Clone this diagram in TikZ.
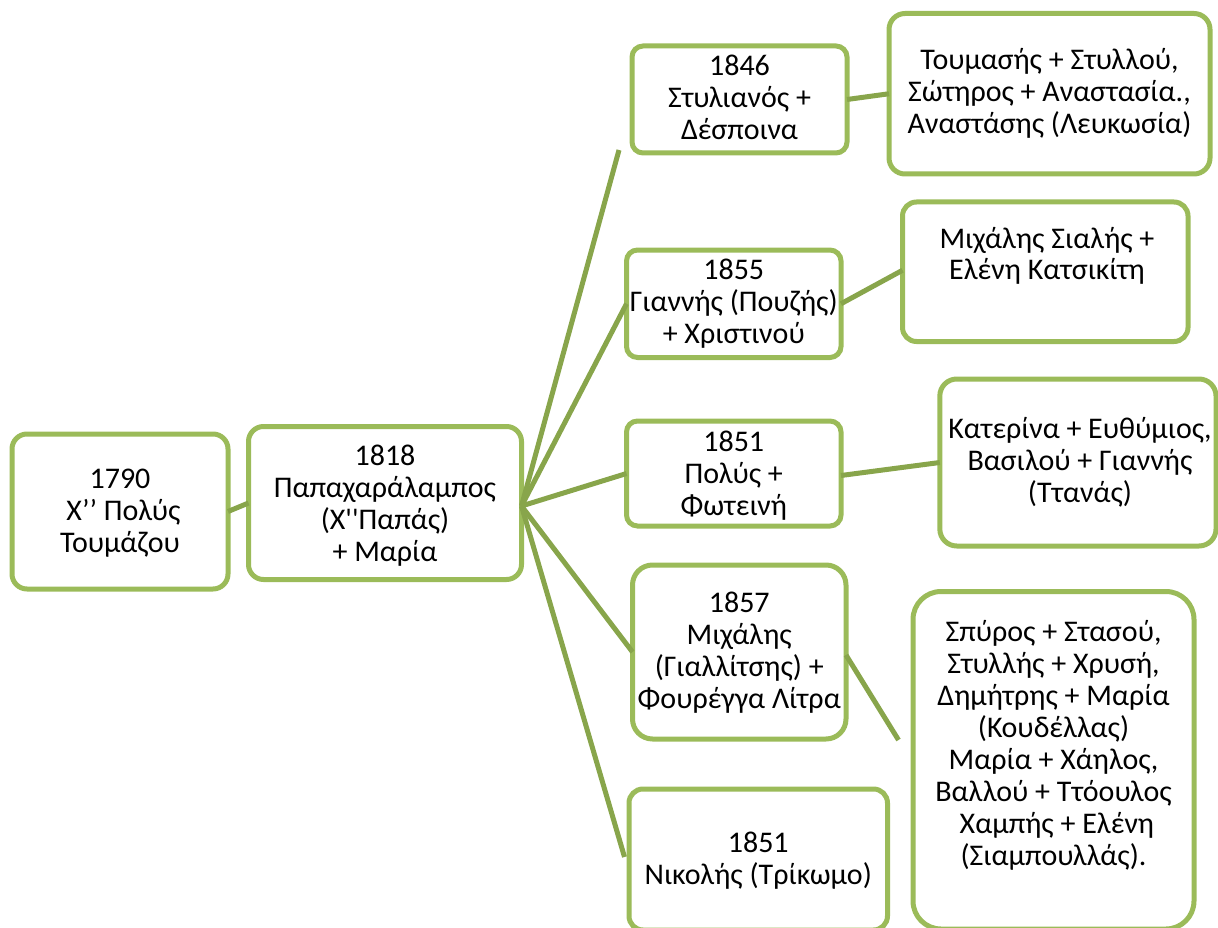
\documentclass[tikz,border=0pt]{standalone}
\usepackage{fontspec}
\newfontfamily\carl{Carlito}
\definecolor{boxgreen}{HTML}{9BBB59}
\definecolor{linegreen}{HTML}{88A54B}
\begin{document}
\begin{tikzpicture}[x=1pt,y=-1pt,
  box/.style={draw=boxgreen, line width=5pt, fill=white, rounded corners=#1,
              inner sep=0pt, outer sep=0pt},
  conn/.style={draw=linegreen, line width=5pt},
  txt/.style={anchor=north, align=center, inner sep=0pt, outer sep=0pt,
              font=\carl\fontsize{30}{32}\selectfont}]
\useasboundingbox (0,0) rectangle (1218,928);

% ---- boxes ----
\node[box=15pt, minimum width=216pt,   minimum height=155pt]   (A) at (120,511.5) {};
\node[box=15pt, minimum width=273pt,   minimum height=153pt]   (B) at (385,503) {};
\node[box=11pt, minimum width=215pt,   minimum height=107pt]   (C) at (739.5,99.5) {};
\node[box=16pt, minimum width=321pt,   minimum height=160.5pt] (D) at (1049.5,93.75) {};
\node[box=11pt, minimum width=214.5pt, minimum height=107.5pt] (E) at (733.75,303.75) {};
\node[box=14pt, minimum width=285.5pt, minimum height=139.5pt] (F) at (1045.25,271.75) {};
\node[box=11pt, minimum width=214.5pt, minimum height=105pt]   (G) at (733.75,473.5) {};
\node[box=17pt, minimum width=276.2pt, minimum height=167pt]   (H) at (1077.9,462.5) {};
\node[box=20pt, minimum width=213.5pt, minimum height=174pt]   (I) at (739.25,652) {};
\node[box=14pt, minimum width=258.5pt, minimum height=141pt]   (J) at (758.25,859.5) {};
\node[box=28pt, minimum width=281pt,   minimum height=337.5pt] (K) at (1053.5,760.25) {};

% ---- free ends of connectors ----
\coordinate (cEnd) at (619,150);
\coordinate (jEnd) at (624.5,857);
\coordinate (kEnd) at (898.5,740);
\coordinate (fan) at ([yshift=-3pt]B.east);

% ---- connectors ----
\draw[conn] (A.east) -- (B.west);
\draw[conn] (fan) -- (cEnd);
\draw[conn] (fan) -- (E.west);
\draw[conn] (fan) -- (G.west);
\draw[conn] (fan) -- (I.west);
\draw[conn] (fan) -- (jEnd);
\draw[conn] (C.east) -- (D.west);
\draw[conn] (E.east) -- ([yshift=1.5pt]F.west);
\draw[conn] ([yshift=-2pt]G.east) -- (H.west);
\draw[conn] ([yshift=-3pt]I.east) -- (kEnd);

% ---- texts (north = first baseline - 22.4) ----
\node[txt] (At) at (120,465.6) {\strut 1790\\\ Χ’’ Πολύς\\Τουμάζου\strut};
\node[txt] (Bt) at (385,442.6) {\strut 1818\\Παπαχαράλαμπος\\(Χ''Παπάς)\\+ Μαρία\strut};
\node[txt] (Ct) at (739.5,53.6) {\strut 1846\\Στυλιανός +\\Δέσποινα\strut};
\node[txt] (Dt) at (1049.5,47.6) {\strut Τουμασής + Στυλλού,\\Σώτηρος + Αναστασία.,\\Αναστάσης (Λευκωσία)\strut};
\node[txt] (Et) at (733.75,257.1) {\strut 1855\\Γιαννής (Πουζής)\\+ Χριστινού\strut};
\node[txt] (Ft) at (1047,225.6) {\strut Μιχάλης Σιαλής +\\Ελένη Κατσικίτη\strut};
\node[txt] (Gt) at (733.75,428.6) {\strut 1851\\Πολύς +\\Φωτεινή\strut};
\node[txt] (Ht) at (1080,415.6) {\strut Κατερίνα + Ευθύμιος,\\Βασιλού + Γιαννής\\(Ττανάς)\strut};
\node[txt] (It) at (739.25,589.6) {\strut 1857\\Μιχάλης\\(Γιαλλίτσης) +\\Φουρέγγα Λίτρα\strut};
\node[txt] (Jt) at (758.25,829.6) {\strut 1851\\Νικολής (Τρίκωμο)\strut};
\node[txt] (Kt) at (1053.5,618.6) {\strut Σπύρος + Στασού,\\Στυλλής + Χρυσή,\\Δημήτρης + Μαρία\\(Κουδέλλας)\\Μαρία + Χάηλος,\\Βαλλού + Ττόουλος\\\ Χαμπής + Ελένη\\(Σιαμπουλλάς).\strut};
\end{tikzpicture}
\end{document}
